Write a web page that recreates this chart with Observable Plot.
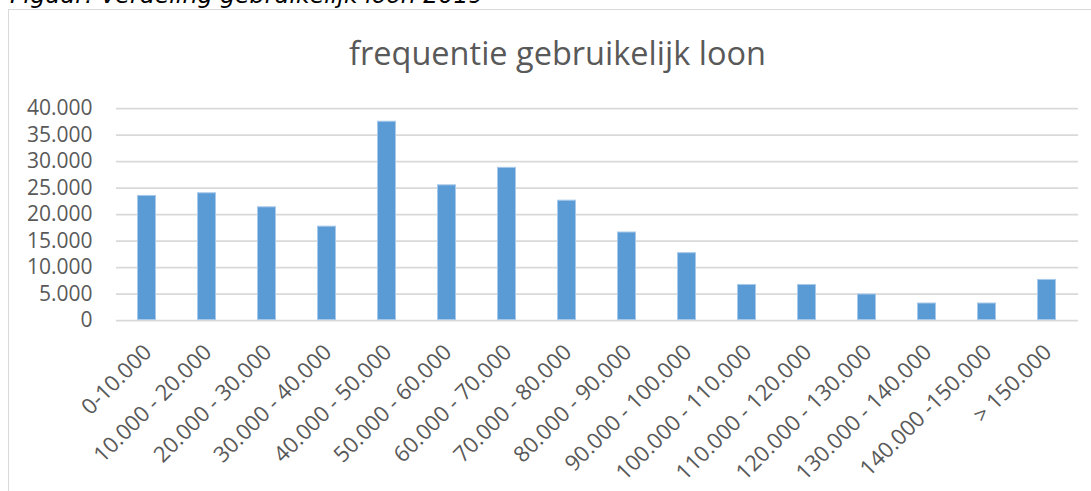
<!DOCTYPE html>
<html>
<head>
<meta charset="utf-8">
<script src="https://cdn.jsdelivr.net/npm/d3@7"></script>
<script src="https://cdn.jsdelivr.net/npm/@observablehq/plot@0.6"></script>
<style>
  html, body { margin: 0; padding: 0; background: #fff; width: 1091px; height: 491px; overflow: hidden; }
  #wrap { position: relative; width: 1091px; height: 491px; overflow: hidden; }
  #caption { position: absolute; left: 10px; top: -16.5px; font-family: "DejaVu Sans", sans-serif; font-style: italic; font-size: 23.7px; line-height: 1; color: #000; white-space: nowrap; }
  #frame { position: absolute; left: 8px; top: 9px; width: 2000px; height: 2000px; border-left: 1.5px solid #d9d9d9; border-top: 1.5px solid #d9d9d9; }
  #title { position: absolute; left: 0; width: 1115px; top: 37px; text-align: center; font-family: "Open Sans", sans-serif; font-size: 32.5px; line-height: 1; color: #595959; white-space: nowrap; }
  #chart { position: absolute; left: 0; top: 0; }
</style>
</head>
<body>
<div id="wrap">
  <div id="frame"></div>
  <div id="caption">Figuur: Verdeling gebruikelijk loon 2019</div>
  <div id="title">frequentie gebruikelijk loon</div>
  <div id="chart"></div>
</div>
<script>
const categories = ["0-10.000", "10.000 - 20.000", "20.000 - 30.000", "30.000 - 40.000", "40.000 - 50.000", "50.000 - 60.000", "60.000 - 70.000", "70.000 - 80.000", "80.000 - 90.000", "90.000 - 100.000", "100.000 - 110.000", "110.000 - 120.000", "120.000 - 130.000", "130.000 - 140.000", "140.000 -150.000", "> 150.000"];
const values = [23600, 24100, 21450, 17800, 37600, 25600, 28900, 22700, 16700, 12800, 6800, 6800, 5000, 3300, 3300, 7750];
const yTicks = [0, 5000, 10000, 15000, 20000, 25000, 30000, 35000, 40000];

const data = categories.map((c, i) => ({category: c, value: values[i]}));
const nl = d3.formatLocale({decimal: ",", thousands: ".", grouping: [3], currency: ["€", ""]});
const fmt = nl.format(",d");

const chart = Plot.plot({
  width: 1091,
  height: 491,
  marginLeft: 116,
  marginRight: 13,
  marginTop: 108,
  marginBottom: 171,
  style: {fontFamily: "'Open Sans', sans-serif", color: "#595959", background: "transparent"},
  x: {domain: categories, paddingInner: 0.68, paddingOuter: 0.34, axis: null},
  y: {domain: [0, 40000], axis: null},
  marks: [
    Plot.ruleY(yTicks, {stroke: "#d9d9d9", strokeWidth: 1.75}),
    Plot.barY(data, {x: "category", y: "value", fill: "#5b9bd5", stroke: "#a9c9ea", strokeWidth: 1, inset: 0.5}),
    Plot.axisY(yTicks, {tickSize: 0, tickPadding: 24, tickFormat: fmt, fontSize: 21, fill: "#595959", label: null}),
    Plot.text(categories, {x: d => d, y: 0, text: d => d, rotate: -45, textAnchor: "end", lineAnchor: "bottom", dx: 6, dy: 33, fontSize: 22, fill: "#595959"})
  ]
});
document.getElementById("chart").appendChild(chart);
</script>
</body>
</html>
